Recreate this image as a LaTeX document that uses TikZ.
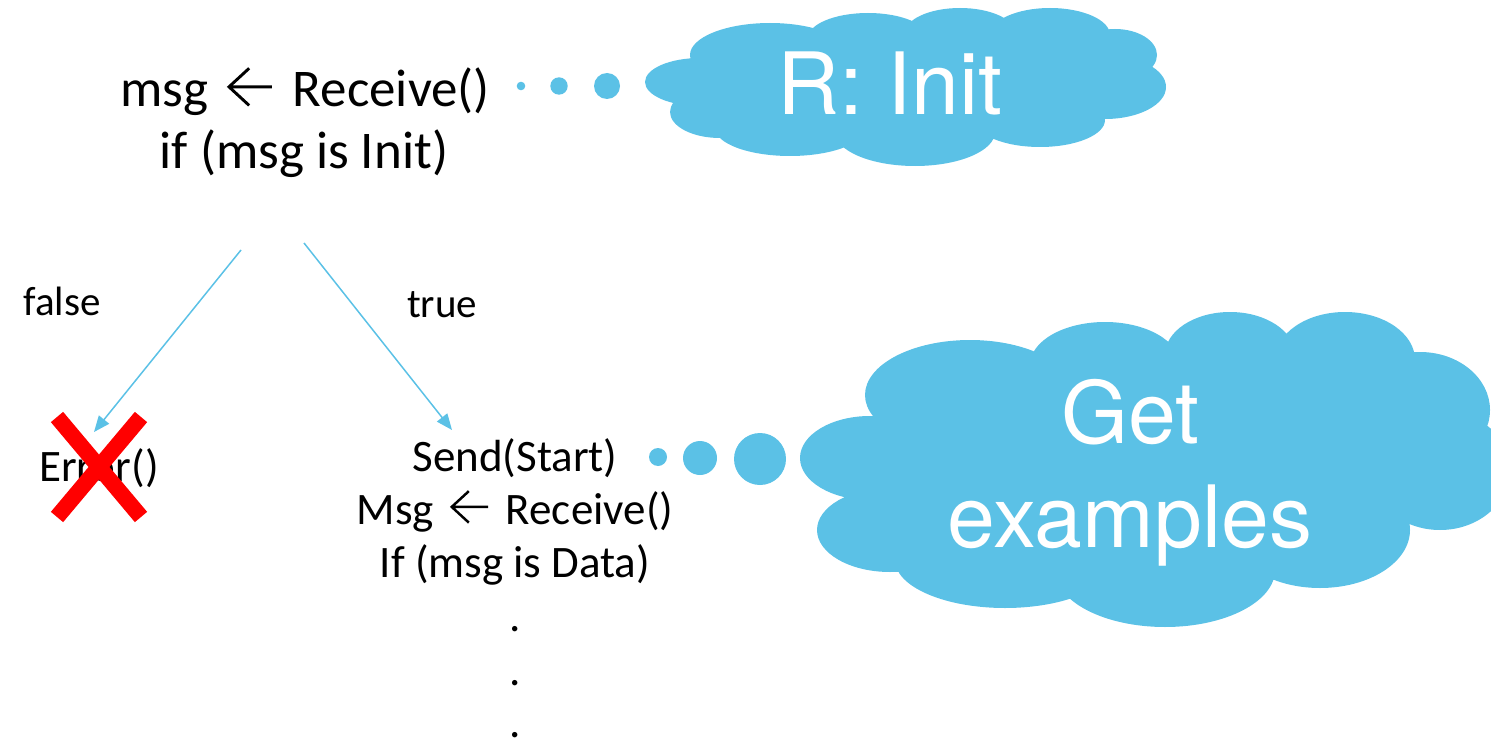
\documentclass[tikz,border=0pt]{standalone}
\usepackage{fontspec}
\setmainfont{Carlito}
\newfontfamily\heros{TeX Gyre Heros}
\usetikzlibrary{arrows.meta}
\definecolor{cloudblue}{HTML}{5BC1E6}
\newcommand{\larr}{\hspace{0.14em}\tikz[baseline=0pt]\draw[line width=0.055em, line cap=butt, line join=miter] (0.40em,0.73em) -- (0.02em,0.38em) -- (0.40em,0.03em) (0.02em,0.38em) -- (0.83em,0.38em);\hspace{0.14em}}
\tikzset{
  codebig/.style={font=\fontsize{53}{64}\selectfont, anchor=base, inner sep=0pt},
  codesm/.style={font=\fontsize{45}{54}\selectfont, anchor=base, inner sep=0pt},
  lbl/.style={font=\fontsize{41}{49}\selectfont, anchor=base, inner sep=0pt},
  cloudtxt/.style={font=\heros\fontsize{86}{103}\selectfont, text=white, anchor=base, inner sep=0pt},
  puff/.style={fill=cloudblue},
  flow/.style={draw=cloudblue, line width=1.5pt, -{Triangle[length=16pt,width=13pt]}},
  cross/.style={draw=red, line width=16pt}
}
\begin{document}
\begin{tikzpicture}[x=1pt,y=-1pt]
\useasboundingbox (0,0) rectangle (1491,741);
\begin{scope}
\clip (0,0) rectangle (1491,741);
% top cloud
\fill[puff] (905,85) ellipse [x radius=220pt, y radius=50pt]
  (700,82) ellipse [x radius=55pt, y radius=24pt]
  (720,112) ellipse [x radius=50pt, y radius=26pt]
  (790,128) ellipse [x radius=75pt, y radius=28pt]
  (915,132) ellipse [x radius=80pt, y radius=34pt]
  (1040,120) ellipse [x radius=65pt, y radius=27pt]
  (1105,87) ellipse [x radius=61pt, y radius=32pt]
  (1115,55) ellipse [x radius=42pt, y radius=26pt]
  (1050,35) ellipse [x radius=60pt, y radius=27pt]
  (960,33) ellipse [x radius=55pt, y radius=25pt]
  (868,38) ellipse [x radius=60pt, y radius=25pt]
  (770,55) ellipse [x radius=80pt, y radius=32pt];
% bottom cloud
\fill[puff] (1150,470) ellipse [x radius=290pt, y radius=120pt]
  (870,458) ellipse [x radius=70pt, y radius=42pt]
  (890,530) ellipse [x radius=73pt, y radius=42pt]
  (1005,560) ellipse [x radius=110pt, y radius=48pt]
  (1165,570) ellipse [x radius=110pt, y radius=57pt]
  (1320,530) ellipse [x radius=90pt, y radius=58pt]
  (1440,470) ellipse [x radius=70pt, y radius=60pt]
  (1420,410) ellipse [x radius=70pt, y radius=58pt]
  (1345,360) ellipse [x radius=70pt, y radius=48pt]
  (1230,355) ellipse [x radius=65pt, y radius=43pt]
  (1105,365) ellipse [x radius=75pt, y radius=43pt]
  (970,395) ellipse [x radius=105pt, y radius=55pt];
\end{scope}
% thought bubbles
\fill[puff] (521,86) circle (4.3pt) (559,86) circle (8.7pt) (607,86) circle (13pt);
\fill[puff] (658,457) circle (9pt) (700,458) circle (17pt) (760,459) circle (26pt);
% cloud texts
\node[cloudtxt] (rinit) at (890,115) {R: Init};
\node[cloudtxt] (get) at (1130,443) {Get};
\node[cloudtxt] (examples) at (1130,547) {examples};
% top code
\node[codebig] (recv) at (305,107) {msg \larr{} Receive()};
\node[codebig] (cond) at (304,168) {if (msg is Init)};
% branch labels
\node[lbl] (false) at (62,315) {false};
\node[lbl] (true) at (442,317) {true};
% error
\node[codesm] (err) at (99,481) {Error()};
\draw[cross] (57,417) -- (141,517);
\draw[cross] (141,417) -- (57,517);
% true branch code
\node[codesm] (send) at (515,471) {Send(Start)};
\node[codesm] (recv2) at (515,524) {Msg \larr{} Receive()};
\node[codesm] (ifdata) at (515,577) {If (msg is Data)};
\node[codesm] (dot1) at (515,631) {.};
\node[codesm] (dot2) at (515,685) {.};
\node[codesm] (dot3) at (515,737) {.};
% connectors
\coordinate (fstart) at (241,250);
\coordinate (fend) at (94,432);
\coordinate (tstart) at (304,243);
\coordinate (tend) at (452,430);
\draw[flow] (fstart) -- (fend);
\draw[flow] (tstart) -- (tend);
\end{tikzpicture}
\end{document}
